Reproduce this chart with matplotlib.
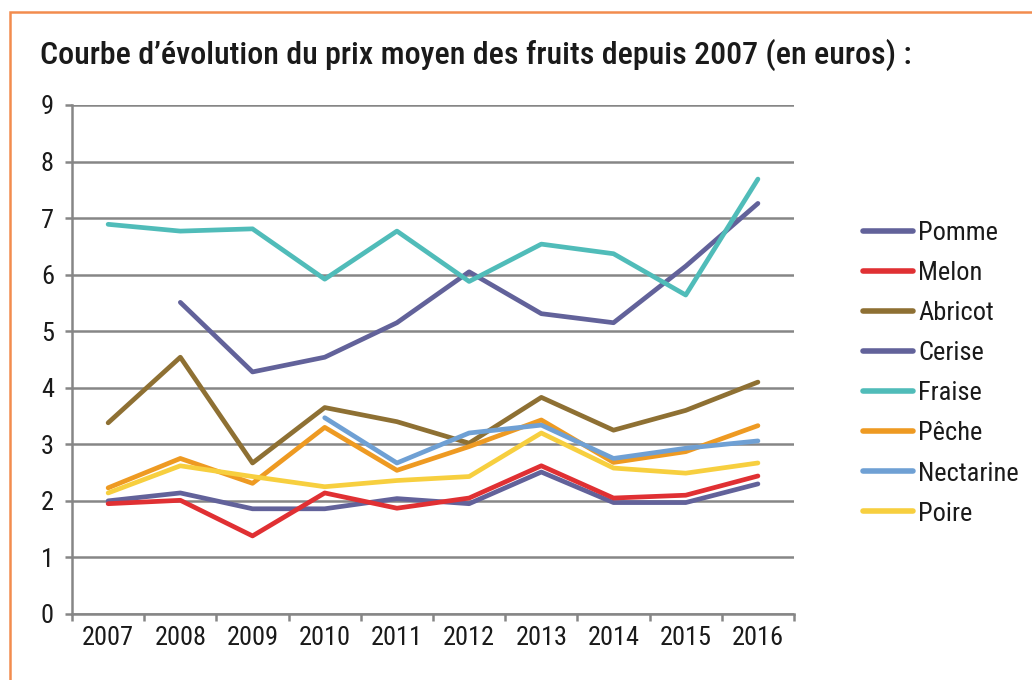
import matplotlib.pyplot as plt
from matplotlib.patches import Rectangle
import numpy as np

plt.rcParams['font.family'] = ['Roboto Condensed', 'DejaVu Sans Condensed', 'Roboto', 'DejaVu Sans']

# Années et prix moyens (en euros)
annees = ['2007', '2008', '2009', '2010', '2011', '2012', '2013', '2014', '2015', '2016']
pomme = [2.00, 2.14, 1.86, 1.86, 2.04, 1.95, 2.51, 1.97, 1.97, 2.30]
melon = [1.95, 2.01, 1.38, 2.14, 1.87, 2.05, 2.62, 2.05, 2.10, 2.44]
abricot = [3.38, 4.54, 2.67, 3.65, 3.40, 3.02, 3.83, 3.25, 3.60, 4.10]
cerise = [None, 5.51, 4.28, 4.54, 5.15, 6.05, 5.31, 5.15, 6.15, 7.26]
fraise = [6.89, 6.77, 6.81, 5.92, 6.77, 5.88, 6.54, 6.37, 5.64, 7.69]
peche = [2.23, 2.75, 2.31, 3.30, 2.54, 2.96, 3.43, 2.68, 2.87, 3.33]
nectarine = [None, None, None, 3.47, 2.67, 3.20, 3.34, 2.75, 2.93, 3.06]
poire = [2.14, 2.62, 2.43, 2.25, 2.36, 2.43, 3.20, 2.58, 2.49, 2.67]

series = [
    ("Pomme", pomme, "#62629a"),
    ("Melon", melon, "#e03033"),
    ("Abricot", abricot, "#8e7033"),
    ("Cerise", cerise, "#62629a"),
    ("Fraise", fraise, "#50bcb9"),
    ("Pêche", peche, "#ee9a22"),
    ("Nectarine", nectarine, "#6fa0d4"),
    ("Poire", poire, "#f7cf3f"),
]

fig = plt.figure(figsize=(10.32, 6.8), dpi=100)
ax = fig.add_axes([0.0698, 0.0971, 0.6996, 0.7485])

x = np.arange(len(annees))
for nom, vals, coul in series:
    y = np.array([np.nan if v is None else v for v in vals])
    ax.plot(x, y, color=coul, lw=3.4, label=nom, solid_capstyle='round', zorder=3)

grid_col = "#868686"
txt_col = '#1a1a1a'
ax.set_xlim(-0.5, len(annees) - 0.5)
ax.set_ylim(0, 9)
ax.set_yticks(range(0, 10))
ax.yaxis.grid(True, color=grid_col, lw=1.8)
ax.set_axisbelow(True)
for s in ['top', 'right']:
    ax.spines[s].set_visible(False)
for s in ['left', 'bottom']:
    ax.spines[s].set_color(grid_col)
    ax.spines[s].set_linewidth(1.8)

# graduations entre les catégories, étiquettes au centre
ax.set_xticks(np.arange(-0.5, len(annees)), minor=False)
ax.set_xticklabels([])
ax.set_xticks(x, minor=True)
ax.set_xticklabels(annees, minor=True)
ax.tick_params(axis='x', which='major', length=5, width=1.8, color=grid_col)
ax.tick_params(axis='x', which='minor', length=0, labelsize=19, pad=9, labelcolor=txt_col)
ax.tick_params(axis='y', length=5, width=1.8, color=grid_col, labelsize=19, pad=8,
               labelcolor=txt_col)

leg = fig.legend(loc='upper left', bbox_to_anchor=(863 / 1032, 1 - 221 / 680), frameon=False,
                 fontsize=19, handlelength=1.9, handletextpad=0.2, labelspacing=0.61,
                 borderpad=0, borderaxespad=0, labelcolor=txt_col)
for h in leg.get_lines():
    h.set_linewidth(4)

fig.text(40 / 1032, 1 - 55 / 680, "Courbe d’évolution du prix moyen des fruits depuis 2007 (en euros) :",
         fontsize=23, fontweight='medium', va='center', ha='left', color=txt_col)

fig.patches.append(Rectangle((10 / 1032, -0.1), 1.5, 1.1 - 12 / 680, transform=fig.transFigure,
                             fill=False, edgecolor='#f28c4e', lw=1.8))

fig.savefig("out.png", dpi=100)
